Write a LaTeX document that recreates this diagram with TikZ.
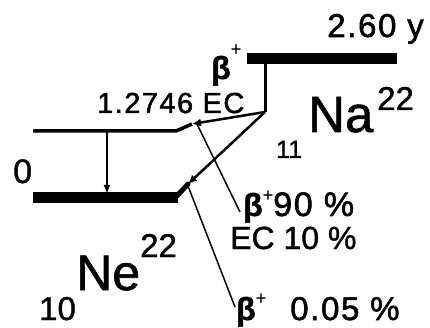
\documentclass[tikz,border=0pt]{standalone}
\usepackage{fontspec}
\setmainfont[FakeBold=1.2]{Liberation Sans}
\newfontfamily\widefont[LetterSpace=5,FakeBold=1.6]{Liberation Sans}
\usetikzlibrary{arrows.meta}
\newcommand\fsz[1]{\fontsize{#1}{#1}\selectfont}
\newcommand\bet{{\bfseries\fsz{32}β}}
\tikzset{
  lvthick/.style={line width=11pt},
  lvthin/.style={line width=3.5pt,line join=round},
  trans/.style={line width=2.5pt,-{Latex[length=9pt,width=8pt]}},
  gammaarr/.style={line width=2.5pt,-{Latex[length=9pt,width=7pt]}},
  pointer/.style={line width=1.5pt},
  lbl/.style={inner sep=0pt,anchor=base west},
}

\begin{document}
\begin{tikzpicture}[x=1pt,y=-1pt]
\useasboundingbox (0,0) rectangle (430,328);

% ============ levels ============
\coordinate (naL) at (247,59);
\coordinate (naR) at (397,59);
\coordinate (naDrop) at (265,62);
\coordinate (kink) at (265,112);
\coordinate (exL) at (33,131);
\coordinate (exR) at (176,131);
\coordinate (exTip) at (192,124);
\coordinate (gsL) at (33,198);
\coordinate (gsR) at (178,198);
\coordinate (gsBend) at (176,197);
\coordinate (gsTip) at (188,184);
\coordinate (gTop) at (107,131);
\coordinate (gBot) at (107,194);

\draw[lvthick] (naL) -- (naR);
\draw[line width=3pt] (naDrop) -- (kink);
\draw[lvthin] (exL) -- (exR) -- (exTip);
\draw[lvthick] (gsL) -- (gsR);
\draw[line width=5pt,line cap=round] (gsBend) -- (gsTip);

% ============ transitions ============
\draw[trans] (kink) -- (exTip);
\draw[trans] (kink) -- (gsTip);
\draw[gammaarr] (gTop) -- (gBot);

% ============ labels ============
\node[lbl,anchor=base east] (halflife) at (424,37) {\widefont\fsz{33}2.60 y};
\node[lbl] (betaTop) at (211,79) {\bet\raisebox{24pt}{\fsz{18}+}};
\node[lbl] (exLabel) at (97,113) {\widefont\fsz{29}1.2746 EC};
\node[lbl] (zeroLabel) at (13,183) {\fsz{34}0};

\node[lbl] (naSym) at (308,132) {\fsz{51}Na};
\node[lbl] (naMass) at (377,110) {\fsz{33}22};
\node[lbl] (naZ) at (276,158) {\fsz{25}11};

\node[lbl] (neZ) at (39,320) {\fsz{33}10};
\node[lbl] (neSym) at (76,290) {\fsz{50}Ne};
\node[lbl] (neMass) at (140,257) {\fsz{33}22};

\node[lbl] (b90) at (243,216) {\bet\raisebox{15pt}{\fsz{18}+}\widefont\fsz{34}90 \%};
\node[lbl] (ec10) at (230,249) {\fsz{32}EC 10 \%};
\node[lbl] (b005) at (236,320) {\bet\raisebox{16pt}{\fsz{18}+}\hspace{24pt}\widefont\fsz{33}0.05 \%};

% ============ pointers ============
\coordinate (p1a) at (197,124);
\coordinate (p1b) at (240,212);
\coordinate (p2a) at (188,186);
\coordinate (p2b) at (235,307);
\draw[pointer] (p1a) -- (p1b);
\draw[pointer] (p2a) -- (p2b);
\end{tikzpicture}
\end{document}
